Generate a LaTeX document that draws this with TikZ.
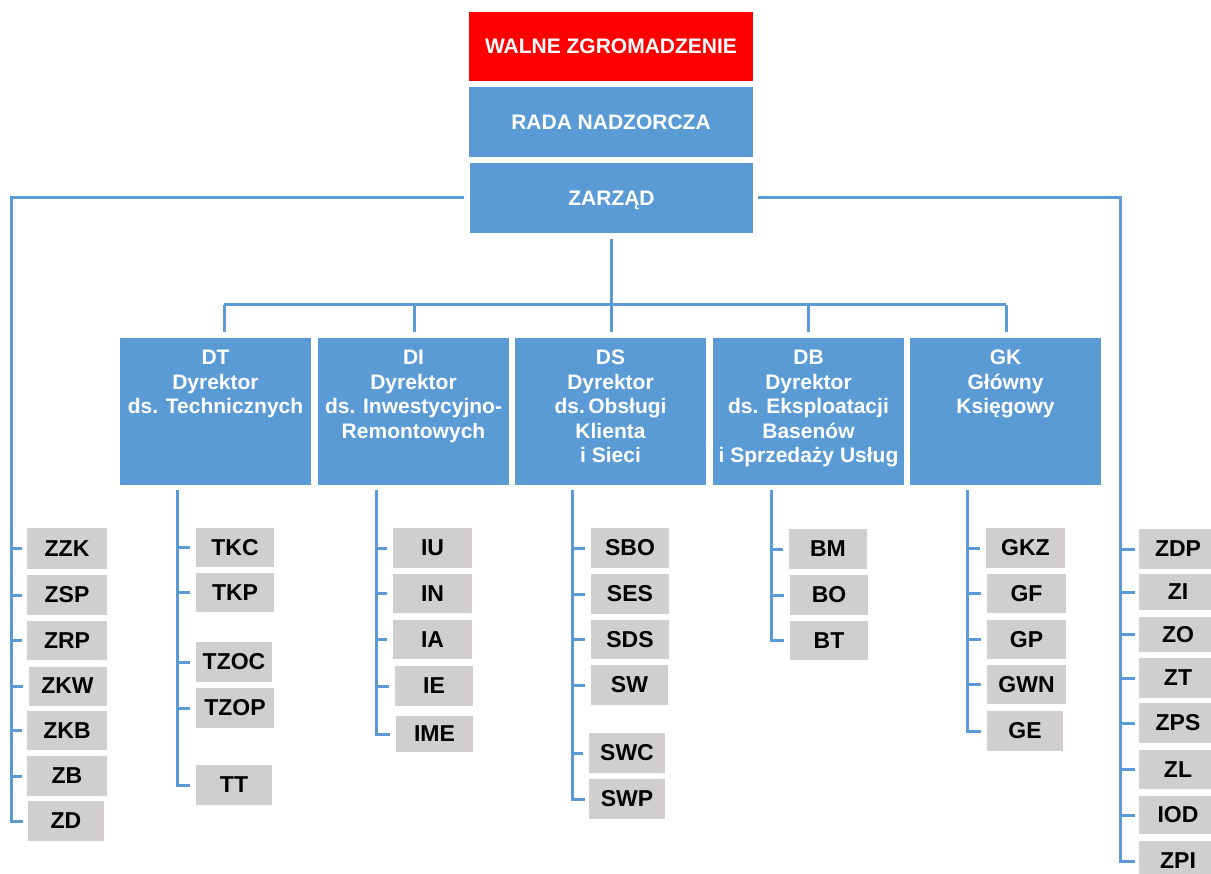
\documentclass[tikz,border=0pt]{standalone}
\usepackage{fontspec}
\setmainfont{Liberation Sans}
\usetikzlibrary{calc}
\definecolor{blu}{HTML}{5B9BD5}
\definecolor{gry}{HTML}{D0CECE}
\definecolor{rd}{HTML}{FF0000}
\newcommand\dirtext[1]{\parbox[c][147pt][t]{191pt}{\centering\rule{0pt}{27pt}#1}}
\tikzset{
  conn/.style={draw=blu, line width=3pt},
  topbox/.style={fill=blu, minimum width=284pt, minimum height=70pt, inner sep=0pt, text=white, text height=15pt, text depth=0pt, font=\bfseries\fontsize{21}{24}\selectfont},
  dirbox/.style={fill=blu, minimum width=191pt, minimum height=147pt, inner sep=0pt, text=white, font=\bfseries\fontsize{21}{24.4}\selectfont},
  unit/.style={fill=gry, minimum width=78pt, minimum height=40pt, inner sep=0pt, text=black, font=\bfseries\fontsize{23}{27}\selectfont},
}
\begin{document}
\begin{tikzpicture}[x=1pt,y=-1pt]
\useasboundingbox (0,0) rectangle (1211,874);
\clip (0,0) rectangle (1211,874);
\fill[white] (0,0) rectangle (1211,874);

% top
\node[topbox, fill=rd, minimum height=69pt] (walne) at (611,46.5) {WALNE ZGROMADZENIE};
\node[topbox] (rada) at (611,122) {RADA NADZORCZA};
\node[topbox, minimum width=283pt] (zar) at (611.5,198) {ZARZĄD};

% directors
\node[dirbox] (dt) at (215.5,411.5) {\dirtext{DT\\Dyrektor\\ds. Technicznych}};
\node[dirbox] (di) at (413.5,411.5) {\dirtext{DI\\Dyrektor\\ds. Inwestycyjno-\\Remontowych}};
\node[dirbox] (ds) at (610.5,411.5) {\dirtext{DS\\Dyrektor\\ds.\,Obsługi\\Klienta\\i Sieci}};
\node[dirbox] (db) at (808.5,411.5) {\dirtext{DB\\Dyrektor\\ds. Eksploatacji\\Basenów\\i Sprzedaży Usług}};
\node[dirbox] (gk) at (1005.5,411.5) {\dirtext{GK\\Główny\\Księgowy}};

% left column
\node[unit, minimum width=80pt] (zzk) at (67,548.5) {ZZK};
\node[unit, minimum width=80pt] (zsp) at (67,595) {ZSP};
\node[unit, minimum width=80pt, minimum height=39pt] (zrp) at (67,640.5) {ZRP};
\node[unit, minimum height=39pt] (zkw) at (67.5,686) {ZKW};
\node[unit, minimum width=80pt, minimum height=39pt] (zkb) at (67,730.5) {ZKB};
\node[unit, minimum width=80pt] (zb) at (67,776) {ZB};
\node[unit, minimum width=76pt] (zd) at (66,821) {ZD};

% DT column
\node[unit, minimum height=39pt] (tkc) at (235,547.5) {TKC};
\node[unit, minimum height=39pt] (tkp) at (235,592.5) {TKP};
\node[unit, minimum width=76pt] (tzoc) at (234,662) {TZOC};
\node[unit] (tzop) at (235,708) {TZOP};
\node[unit, minimum width=76pt] (tt) at (234,785) {TT};

% DI column
\node[unit, minimum width=79pt] (iu) at (432.5,548) {IU};
\node[unit, minimum width=79pt, minimum height=39pt] (in) at (432.5,593.5) {IN};
\node[unit, minimum width=79pt, minimum height=39pt] (ia) at (432.5,639.5) {IA};
\node[unit] (ie) at (434,686) {IE};
\node[unit, minimum width=77pt, minimum height=36pt] (ime) at (434.5,734) {IME};

% DS column
\node[unit] (sbo) at (630,548) {SBO};
\node[unit] (ses) at (630,594) {SES};
\node[unit, minimum height=39pt] (sds) at (630,639.5) {SDS};
\node[unit, minimum width=77pt] (sw) at (629.5,685) {SW};
\node[unit, minimum width=76pt] (swc) at (627,753) {SWC};
\node[unit, minimum width=76pt] (swp) at (627,799) {SWP};

% DB column
\node[unit] (bm) at (828,549) {BM};
\node[unit] (bo) at (829,595) {BO};
\node[unit, minimum height=39pt] (bt) at (829,640.5) {BT};

% GK column
\node[unit, minimum width=79pt] (gkz) at (1025.5,548) {GKZ};
\node[unit, minimum width=79pt, minimum height=39pt] (gf) at (1026.5,593.5) {GF};
\node[unit, minimum width=79pt, minimum height=39pt] (gp) at (1026.5,639.5) {GP};
\node[unit, minimum width=79pt, minimum height=39pt] (gwn) at (1026.5,684.5) {GWN};
\node[unit, minimum width=76pt] (ge) at (1025,731) {GE};

% right column
\node[unit] (zdp) at (1178,549) {ZDP};
\node[unit, minimum height=36pt] (zi) at (1178,592) {ZI};
\node[unit, minimum height=35pt] (zo) at (1178,634.5) {ZO};
\node[unit] (zt) at (1178,678) {ZT};
\node[unit] (zps) at (1178,723) {ZPS};
\node[unit, minimum height=39pt] (zl) at (1178,769.5) {ZL};
\node[unit, minimum height=38pt] (iod) at (1178,815) {IOD};
\node[unit] (zpi) at (1178,861) {ZPI};

% coordinates
\coordinate (L) at (11,198);
\coordinate (R) at (1120,198);
\coordinate (bus) at (611.5,305);
\coordinate (busL) at (224,305);
\coordinate (busI) at (414,305);
\coordinate (busB) at (808,305);
\coordinate (busR) at (1006,305);
\coordinate (dts) at ($(dt.south west)+(58,5)$);
\coordinate (dis) at ($(di.south west)+(59,5)$);
\coordinate (dss) at ($(ds.south west)+(58,5)$);
\coordinate (dbs) at ($(db.south west)+(59,5)$);
\coordinate (gks) at ($(gk.south west)+(58,5)$);

% Zarzad connections
\draw[conn] ($(zar.west)+(-6,0)$) -- (L) |- ($(zd.west)+(-5,0)$);
\foreach \n in {zzk,zsp,zrp,zkw,zkb,zb}
  \draw[conn] (\n.west -| L) -- ($(\n.west)+(-5,0)$);
\draw[conn] ($(zar.east)+(5,0)$) -- (R) |- ($(zpi.west)+(-4,0)$);
\foreach \n in {zdp,zi,zo,zt,zps,zl,iod}
  \draw[conn] (\n.west -| R) -- ($(\n.west)+(-4,0)$);

% bus
\draw[conn] ($(zar.south)+(0,6)$) -- (bus);
\draw[conn] (busL) -- (busR);
\draw[conn] (busL) -- ($(busL |- dt.north)+(0,-6)$);
\draw[conn] (busI) -- ($(busI |- di.north)+(0,-6)$);
\draw[conn] (bus) -- ($(bus |- ds.north)+(0,-6)$);
\draw[conn] (busB) -- ($(busB |- db.north)+(0,-6)$);
\draw[conn] (busR) -- ($(busR |- gk.north)+(0,-6)$);

% director columns
\draw[conn] (dts) |- ($(tt.west)+(-6,0)$);
\foreach \n in {tkc,tkp,tzoc,tzop}
  \draw[conn] (\n.west -| dts) -- ($(\n.west)+(-6,0)$);
\draw[conn] (dis) |- ($(ime.west)+(-6,0)$);
\foreach \n in {iu,in,ia,ie}
  \draw[conn] (\n.west -| dis) -- ($(\n.west)+(-6,0)$);
\draw[conn] (dss) |- ($(swp.west)+(-4,0)$);
\foreach \n in {sbo,ses,sds,sw,swc}
  \draw[conn] (\n.west -| dss) -- ($(\n.west)+(-6,0)$);
\draw[conn] (dbs) |- ($(bt.west)+(-6,0)$);
\foreach \n in {bm,bo}
  \draw[conn] (\n.west -| dbs) -- ($(\n.west)+(-6,0)$);
\draw[conn] (gks) |- ($(ge.west)+(-6,0)$);
\foreach \n in {gkz,gf,gp,gwn}
  \draw[conn] (\n.west -| gks) -- ($(\n.west)+(-6,0)$);
\end{tikzpicture}
\end{document}
